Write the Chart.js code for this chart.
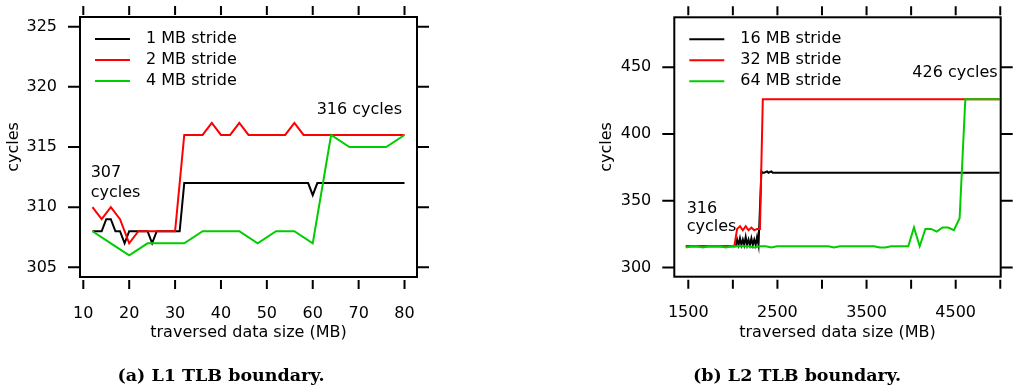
<!DOCTYPE html>
<html>
<head>
<meta charset="utf-8">
<script src="https://cdn.jsdelivr.net/npm/chart.js@4.4.1/dist/chart.umd.min.js"></script>
<style>
  body { margin: 0; background: #fff; }
  #page { position: relative; width: 1013px; height: 390px; overflow: hidden; }
  canvas { position: absolute; top: 0; }
  .caption {
    position: absolute; top: 364px; width: 320px; text-align: center;
    font: bold 17.5px "DejaVu Serif", serif; line-height: 22px; color: #000;
  }
</style>
</head>
<body>
<div id="page">
  <canvas id="tlb1" width="506" height="390" style="left:0"></canvas>
  <canvas id="tlb2" width="507" height="390" style="left:506px"></canvas>
  <div class="caption" style="left:61px">(a) L1 TLB boundary.</div>
  <div class="caption" style="left:637px">(b) L2 TLB boundary.</div>
</div>
<script>
// ---- (a) L1 TLB ----
const xTicksL = [10, 20, 30, 40, 50, 60, 70, 80];
const yTicksL = [305, 310, 315, 320, 325];

const x1MB = [12, 13, 14, 15, 16, 17, 18, 19, 20, 21, 22, 23, 24, 25, 26, 27, 28, 29, 30, 31,
  32, 33, 34, 35, 36, 37, 38, 39, 40, 41, 42, 43, 44, 45, 46, 47, 48, 49, 50, 51,
  52, 53, 54, 55, 56, 57, 58, 59, 60, 61, 62, 63, 64, 65, 66, 67, 68, 69, 70, 71,
  72, 73, 74, 75, 76, 77, 78, 79, 80];
const y1MB = [308, 308, 308, 309, 309, 308, 308, 307, 308, 308, 308, 308, 308, 307, 308, 308, 308, 308, 308, 308,
  312, 312, 312, 312, 312, 312, 312, 312, 312, 312, 312, 312, 312, 312, 312, 312, 312, 312, 312, 312,
  312, 312, 312, 312, 312, 312, 312, 312, 311, 312, 312, 312, 312, 312, 312, 312, 312, 312, 312, 312,
  312, 312, 312, 312, 312, 312, 312, 312, 312];

const x2MB = [12, 14, 16, 18, 20, 22, 24, 26, 28, 30, 32, 34, 36, 38, 40, 42, 44, 46, 48, 50,
  52, 54, 56, 58, 60, 62, 64, 66, 68, 70, 72, 74, 76, 78, 80];
const y2MB = [310, 309, 310, 309, 307, 308, 308, 308, 308, 308, 316, 316, 316, 317, 316, 316, 317, 316, 316, 316,
  316, 316, 317, 316, 316, 316, 316, 316, 316, 316, 316, 316, 316, 316, 316];

const x4MB = [12, 16, 20, 24, 28, 32, 36, 40, 44, 48, 52, 56, 60, 64, 68, 72, 76, 80];
const y4MB = [308, 307, 306, 307, 307, 307, 308, 308, 308, 307, 308, 308, 307, 316, 315, 315, 315, 316];

// ---- (b) L2 TLB ----
const xTicksR = [1500, 2000, 2500, 3000, 3500, 4000, 4500, 5000];
const xLabelsR = [1500, 2500, 3500, 4500];
const yTicksR = [300, 350, 400, 450];

// vertices of the 16 MB line (flat stretches between them)
const x16MB = [1472, 2032, 2048, 2064, 2080, 2096, 2112, 2128, 2144, 2160, 2176, 2192, 2208, 2224, 2240, 2256,
  2272, 2288, 2320, 2336, 2352, 2384, 2400, 2432, 2448, 4992];
const y16MB = [316, 316, 321, 317, 322, 317, 321, 317, 323, 317, 321, 317, 322, 317, 321, 317,
  323, 317, 372, 371, 371, 372, 371, 372, 371, 371];

// vertices of the 32 MB line
const x32MB = [1472, 2016, 2048, 2080, 2112, 2144, 2176, 2208, 2240, 2272, 2304, 2336, 4992];
const y32MB = [316, 316, 329, 331, 328, 331, 328, 330, 328, 329, 329, 426, 426];

const x64MB = [1472, 1536, 1600, 1664, 1728, 1792, 1856, 1920, 1984, 2048, 2112, 2176, 2240, 2304, 2368, 2432,
  2496, 2560, 2624, 2688, 2752, 2816, 2880, 2944, 3008, 3072, 3136, 3200, 3264, 3328, 3392, 3456,
  3520, 3584, 3648, 3712, 3776, 3840, 3904, 3968, 4032, 4096, 4160, 4224, 4288, 4352, 4416, 4480,
  4544, 4608, 4672, 4736, 4800, 4864, 4928, 4992];
const y64MB = [315, 316, 316, 315, 316, 316, 316, 315, 316, 316, 316, 316, 315, 316, 316, 315,
  316, 316, 316, 316, 316, 316, 316, 316, 316, 316, 315, 316, 316, 316, 316, 316,
  316, 316, 315, 315, 316, 316, 316, 316, 330, 316, 329, 329, 327, 330, 330, 328,
  337, 426, 426, 426, 426, 426, 426, 426];

const colors = ['#000000', '#ff0000', '#00cc00'];

Chart.defaults.font.family = '"DejaVu Sans", sans-serif';
Chart.defaults.font.size = 16;
Chart.defaults.color = '#000';

function pts(xs, ys) {
  return xs.map((x, i) => ({ x: x, y: ys[i] }));
}

// keep the chart area where it is: labels may hang over the edges
function noOverhang(s) {
  s.paddingTop = 0; s.paddingBottom = 0;
  s.paddingLeft = 0; s.paddingRight = 0;
}

// box, outward ticks on all four sides, legend and notes
const framePlugin = {
  id: 'frame',
  afterDraw(chart, args, opts) {
    const ctx = chart.ctx;
    const a = chart.chartArea;
    const xs = chart.scales.x, ys = chart.scales.y;
    ctx.save();
    ctx.strokeStyle = '#000';
    ctx.lineWidth = 2;
    ctx.strokeRect(a.left, a.top, a.right - a.left, a.bottom - a.top);
    ctx.beginPath();
    xs.ticks.forEach(t => {
      const px = xs.getPixelForValue(t.value);
      ctx.moveTo(px, a.bottom + 3); ctx.lineTo(px, a.bottom + 12);
      ctx.moveTo(px, a.top - 2); ctx.lineTo(px, a.top - 11);
    });
    ys.ticks.forEach(t => {
      const py = ys.getPixelForValue(t.value);
      ctx.moveTo(a.left - 12, py); ctx.lineTo(a.left, py);
      ctx.moveTo(a.right, py); ctx.lineTo(a.right + 12, py);
    });
    ctx.stroke();

    ctx.font = '16px "DejaVu Sans"';
    ctx.textBaseline = 'middle';
    ctx.fillStyle = '#000';
    opts.names.forEach((name, i) => {
      const y = a.top + 22 + i * 21;
      ctx.strokeStyle = colors[i];
      ctx.beginPath();
      ctx.moveTo(a.left + 15, y); ctx.lineTo(a.left + 50, y);
      ctx.stroke();
      ctx.textAlign = 'left';
      ctx.fillText(name, a.left + 66, y);
    });
    opts.notes.forEach(n => {
      ctx.textAlign = n.align;
      ctx.fillText(n.text, xs.getPixelForValue(n.x), ys.getPixelForValue(n.y));
    });
    ctx.restore();
  }
};

function makeChart(id, cfg) {
  return new Chart(document.getElementById(id), {
    type: 'line',
    data: {
      datasets: cfg.series.map((s, i) => ({
        label: cfg.names[i],
        data: pts(s[0], s[1]),
        borderColor: colors[i],
        borderWidth: 2,
        pointRadius: 0,
        tension: 0,
        fill: false,
        order: 3 - i
      }))
    },
    options: {
      responsive: false,
      animation: false,
      layout: { autoPadding: false, padding: cfg.padding },
      plugins: {
        legend: { display: false },
        tooltip: { enabled: false },
        frame: { names: cfg.names, notes: cfg.notes }
      },
      scales: {
        x: {
          type: 'linear',
          min: cfg.xMin, max: cfg.xMax,
          grid: { display: false, drawTicks: false },
          border: { display: false },
          afterBuildTicks: s => { s.ticks = cfg.xTicks.map(v => ({ value: v })); },
          afterFit: s => { s.height = cfg.xHeight; noOverhang(s); },
          ticks: {
            padding: 27, autoSkip: false, maxRotation: 0,
            callback: v => (cfg.xLabels.includes(v) ? String(v) : '')
          },
          title: { display: true, text: 'traversed data size (MB)', padding: 0 }
        },
        y: {
          min: cfg.yMin, max: cfg.yMax,
          grid: { display: false, drawTicks: false },
          border: { display: false },
          afterBuildTicks: s => { s.ticks = cfg.yTicks.map(v => ({ value: v })); },
          afterFit: s => { s.width = cfg.yWidth; noOverhang(s); },
          ticks: { padding: 23 },
          title: { display: true, text: 'cycles', padding: { top: 4, bottom: 0 } }
        }
      }
    },
    plugins: [framePlugin]
  });
}

makeChart('tlb1', {
  series: [[x1MB, y1MB], [x2MB, y2MB], [x4MB, y4MB]],
  names: ['1 MB stride', '2 MB stride', '4 MB stride'],
  xMin: 9.28, xMax: 82.72, yMin: 304.2, yMax: 325.8,
  xTicks: xTicksL, xLabels: xTicksL, yTicks: yTicksL,
  padding: { left: 0, right: 89, top: 17, bottom: 47.4 },
  xHeight: 65.6, yWidth: 80,
  notes: [
    { text: '316 cycles', x: 79.45, y: 318.07, align: 'right' },
    { text: '307', x: 11.6, y: 312.84, align: 'left' },
    { text: 'cycles', x: 11.6, y: 311.18, align: 'left' }
  ]
});

makeChart('tlb2', {
  series: [[x16MB, y16MB], [x32MB, y32MB], [x64MB, y64MB]],
  names: ['16 MB stride', '32 MB stride', '64 MB stride'],
  xMin: 1343, xMax: 5005, yMin: 293.2, yMax: 487.4,
  xTicks: xTicksR, xLabels: xLabelsR, yTicks: yTicksR,
  padding: { left: 87.4, right: 12.3, top: 17.3, bottom: 47.4 },
  xHeight: 65.9, yWidth: 80.9,
  notes: [
    { text: '426 cycles', x: 4971, y: 445.9, align: 'right' },
    { text: '316', x: 1482, y: 343.9, align: 'left' },
    { text: 'cycles', x: 1482, y: 330.6, align: 'left' }
  ]
});
</script>
</body>
</html>
